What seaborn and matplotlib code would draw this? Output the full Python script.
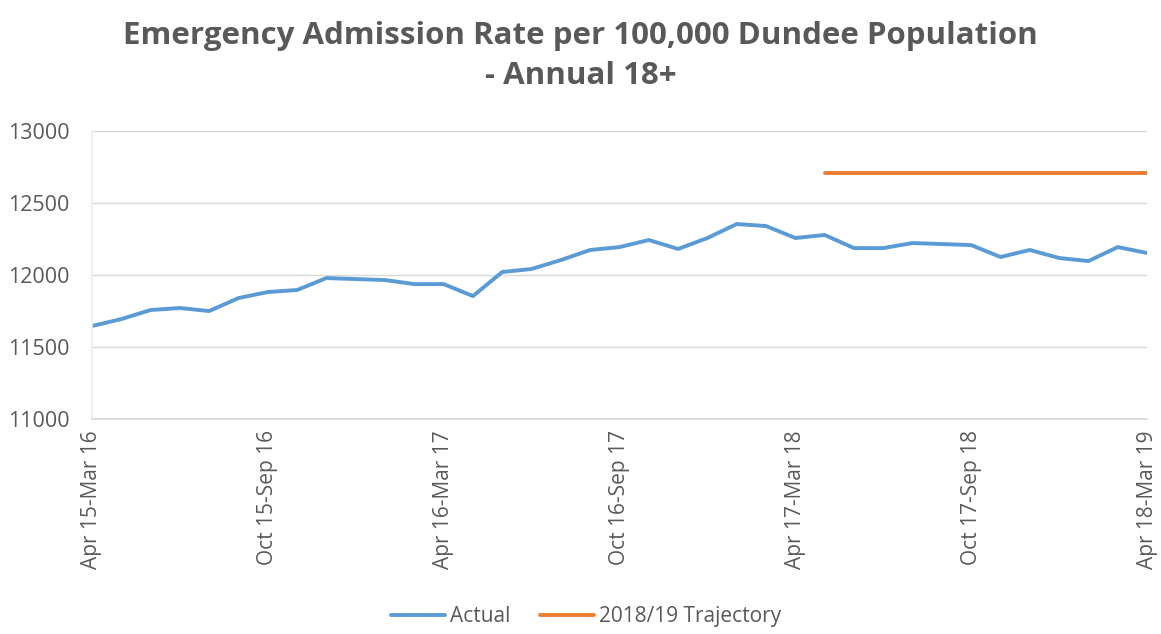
import matplotlib
matplotlib.use("Agg")
import matplotlib.pyplot as plt
import numpy as np
import pandas as pd
import seaborn as sns

# Rolling 12-month periods, one per month end
periods = [
    "Apr 15-Mar 16", "May 15-Apr 16", "Jun 15-May 16", "Jul 15-Jun 16",
    "Aug 15-Jul 16", "Sep 15-Aug 16", "Oct 15-Sep 16", "Nov 15-Oct 16",
    "Dec 15-Nov 16", "Jan 16-Dec 16", "Feb 16-Jan 17", "Mar 16-Feb 17",
    "Apr 16-Mar 17", "May 16-Apr 17", "Jun 16-May 17", "Jul 16-Jun 17",
    "Aug 16-Jul 17", "Sep 16-Aug 17", "Oct 16-Sep 17", "Nov 16-Oct 17",
    "Dec 16-Nov 17", "Jan 17-Dec 17", "Feb 17-Jan 18", "Mar 17-Feb 18",
    "Apr 17-Mar 18", "May 17-Apr 18", "Jun 17-May 18", "Jul 17-Jun 18",
    "Aug 17-Jul 18", "Sep 17-Aug 18", "Oct 17-Sep 18", "Nov 17-Oct 18",
    "Dec 17-Nov 18", "Jan 18-Dec 18", "Feb 18-Jan 19", "Mar 18-Feb 19",
    "Apr 18-Mar 19",
]

actual = [
    11646, 11694, 11757, 11771, 11750, 11840, 11882, 11896, 11979, 11972,
    11965, 11937, 11937, 11854, 12021, 12042, 12104, 12174, 12194, 12243,
    12181, 12257, 12354, 12340, 12257, 12278, 12187, 12187, 12222, 12215,
    12208, 12125, 12174, 12118, 12097, 12194, 12153,
]

# 2018/19 trajectory applies from May 17-Apr 18 onwards
trajectory_start = "May 17-Apr 18"
trajectory_value = 12705

shown_labels = [
    "Apr 15-Mar 16", "Oct 15-Sep 16", "Apr 16-Mar 17", "Oct 16-Sep 17",
    "Apr 17-Mar 18", "Oct 17-Sep 18", "Apr 18-Mar 19",
]
y_ticks = [11000, 11500, 12000, 12500, 13000]

pos = np.arange(len(periods))
start = periods.index(trajectory_start)
traj = [np.nan] * start + [trajectory_value] * (len(periods) - start)

df = pd.DataFrame({"pos": pos, "period": periods, "Actual": actual,
                   "2018/19 Trajectory": traj})

sns.set_theme(style="white")
plt.rcParams["font.family"] = ["Open Sans", "DejaVu Sans"]

BLUE = "#5b9bd5"
ORANGE = "#ed7d31"
GREY_TXT = "#595959"

fig = plt.figure(figsize=(11.61, 6.34), dpi=100)
ax = fig.add_axes([0.0792, 0.339, 0.9088, 0.4544])

sns.lineplot(data=df, x="pos", y="Actual", ax=ax, color=BLUE, lw=2.8,
             label="Actual", legend=False)
sns.lineplot(data=df.dropna(), x="pos", y="2018/19 Trajectory", ax=ax,
             color=ORANGE, lw=2.8, label="2018/19 Trajectory", legend=False)

ax.set_xlim(0, len(periods) - 1)
ax.set_ylim(y_ticks[0], y_ticks[-1])
ax.set_yticks(y_ticks)
ax.set_yticklabels([str(v) for v in y_ticks], fontsize=15.5, color=GREY_TXT)
for v in y_ticks[1:]:
    ax.axhline(v, color="#d9d9d9", lw=1, zorder=0)

ax.set_xticks(pos, minor=True)
ax.set_xticks([periods.index(l) for l in shown_labels])
ax.set_xticklabels(shown_labels, rotation=90, fontsize=15, color=GREY_TXT)
ax.tick_params(axis="x", which="both", length=5, color="#d9d9d9",
               direction="out", pad=3)
ax.tick_params(axis="y", length=0, pad=16)

ax.set_xlabel("")
ax.set_ylabel("")
for side in ("top", "right"):
    ax.spines[side].set_visible(False)
ax.spines["bottom"].set_color("#d9d9d9")
ax.spines["left"].set_color("#eeeeee")

fig.text(0.5, 0.943, "Emergency Admission Rate per 100,000 Dundee Population",
         ha="center", va="center", fontsize=22.5, fontweight="bold",
         color=GREY_TXT)
fig.text(0.5, 0.880, "- Annual 18+", ha="center", va="center", fontsize=22.5,
         fontweight="bold", color=GREY_TXT)

handles, labels = ax.get_legend_handles_labels()
fig.legend(handles, labels, loc="center", bbox_to_anchor=(0.505, 0.027),
           ncol=2, frameon=False, fontsize=15, handlelength=2.6,
           handletextpad=0.25, columnspacing=1.4, labelcolor=GREY_TXT)

fig.savefig("out.png", dpi=100, facecolor="white")
